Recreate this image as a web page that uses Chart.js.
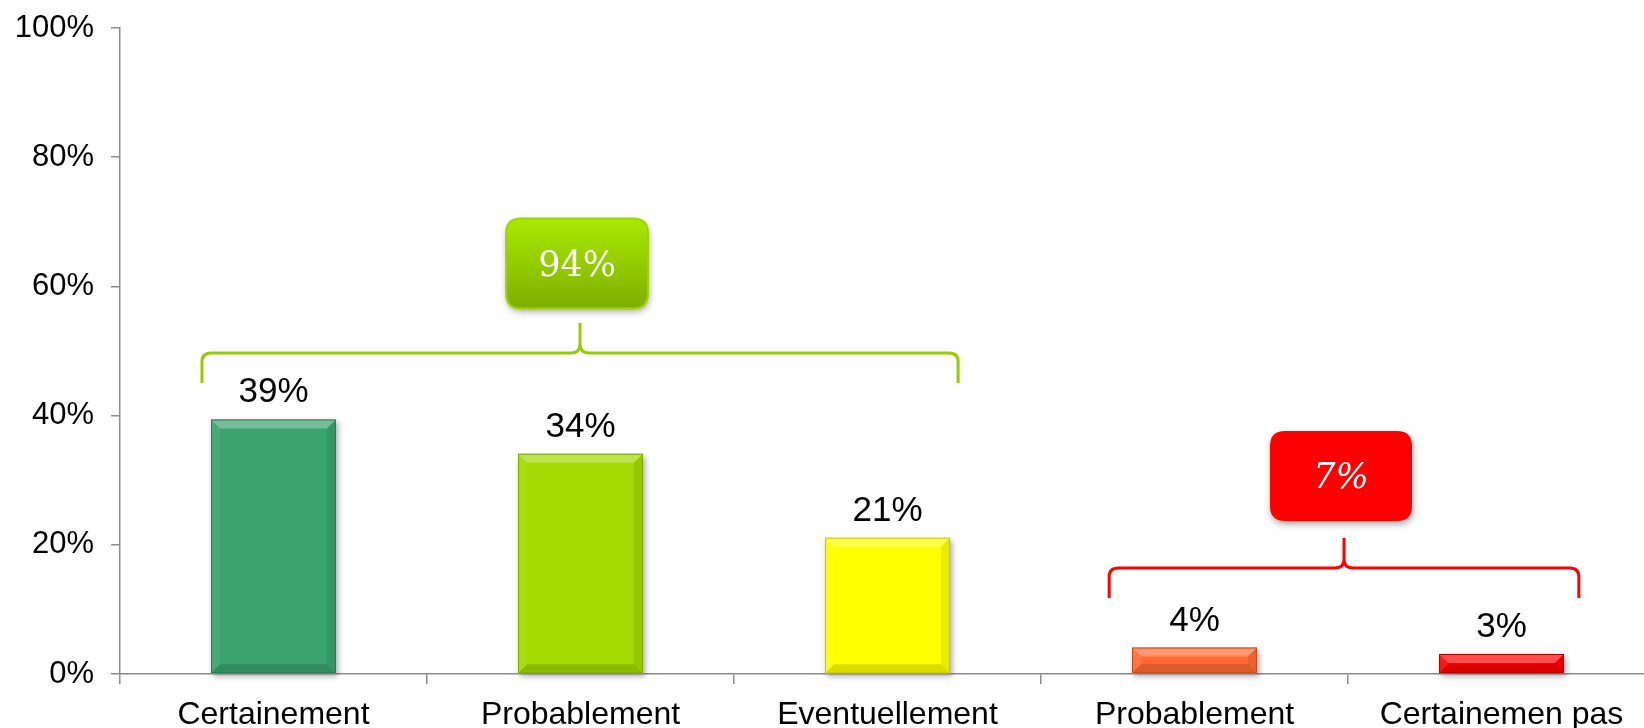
<!DOCTYPE html>
<html>
<head>
<meta charset="utf-8">
<script src="https://cdn.jsdelivr.net/npm/chart.js@4.4.1/dist/chart.umd.min.js"></script>
<style>
  html, body { margin: 0; padding: 0; background: #fff; overflow: hidden; }
  #wrap { width: 1660px; height: 728px; }
</style>
</head>
<body>
<div id="wrap"><canvas id="c" width="1660" height="728"></canvas></div>
<script>
// ---- data ----
const categories = ['Certainement', 'Probablement', 'Eventuellement', 'Probablement', 'Certainemen pas'];
const values = [39.4, 34.1, 21.1, 4.1, 3.1];
const barColors = ['#3aa36e', '#a3d900', '#ffff00', '#ff6a33', '#ff0000'];
const edgeColors = ['#2a7a50', '#7fa800', '#c8c800', '#c44a1e', '#b00000'];
const yTicks = [0, 20, 40, 60, 80, 100];
// groups for the brackets: first / last category index
const groupStart = [0, 3];
const groupEnd = [2, 4];
const groupColors = ['#9acb00', '#ff0000'];

const valueLabels = values.map(v => Math.round(v));
const groupTotals = groupStart.map((s, i) => valueLabels.slice(s, groupEnd[i] + 1).reduce((a, b) => a + b, 0));

// layout of the annotations (category units / value units)
const bracketExt = [[-0.233, 0.23], [-0.278, 0.252]];
const bracketLevel = [49.7, 16.4];
const boxTop = [70.5, 37.6];

const FONT = "'Liberation Sans', Arial, sans-serif";

function rr(ctx, x, y, w, h, r) {
  ctx.beginPath();
  ctx.moveTo(x + r, y);
  ctx.lineTo(x + w - r, y);
  ctx.quadraticCurveTo(x + w, y, x + w, y + r);
  ctx.lineTo(x + w, y + h - r);
  ctx.quadraticCurveTo(x + w, y + h, x + w - r, y + h);
  ctx.lineTo(x + r, y + h);
  ctx.quadraticCurveTo(x, y + h, x, y + h - r);
  ctx.lineTo(x, y + r);
  ctx.quadraticCurveTo(x, y, x + r, y);
  ctx.closePath();
}

const shadowPlugin = {
  id: 'barShadow',
  beforeDatasetsDraw(chart) {
    const ctx = chart.ctx;
    const meta = chart.getDatasetMeta(0);
    ctx.save();
    meta.data.forEach(bar => {
      const w = bar.width;
      ctx.shadowColor = 'rgba(0,0,0,0.35)';
      ctx.shadowBlur = 6;
      ctx.shadowOffsetX = 2;
      ctx.shadowOffsetY = 3;
      ctx.fillStyle = '#fff';
      ctx.fillRect(bar.x - w / 2, bar.y, w, bar.base - bar.y);
    });
    ctx.restore();
  }
};

const bevelPlugin = {
  id: 'bevel',
  afterDatasetsDraw(chart) {
    const ctx = chart.ctx;
    const meta = chart.getDatasetMeta(0);
    ctx.save();
    meta.data.forEach((bar, i) => {
      const l = bar.x - bar.width / 2, r = bar.x + bar.width / 2;
      const t = bar.y, btm = bar.base;
      const b = Math.min(9, (btm - t) / 2);
      const poly = (pts, fill) => {
        ctx.beginPath();
        ctx.moveTo(pts[0][0], pts[0][1]);
        for (let k = 1; k < pts.length; k++) ctx.lineTo(pts[k][0], pts[k][1]);
        ctx.closePath();
        ctx.fillStyle = fill;
        ctx.fill();
      };
      poly([[l, t], [r, t], [r - b, t + b], [l + b, t + b]], 'rgba(255,255,255,0.30)');
      poly([[l, t], [l + b, t + b], [l + b, btm - b], [l, btm]], 'rgba(255,255,255,0.08)');
      poly([[r, t], [r, btm], [r - b, btm - b], [r - b, t + b]], 'rgba(0,0,0,0.08)');
      poly([[l, btm], [r, btm], [r - b, btm - b], [l + b, btm - b]], 'rgba(0,0,0,0.14)');
      ctx.strokeStyle = edgeColors[i];
      ctx.lineWidth = 1;
      ctx.strokeRect(l + 0.5, t + 0.5, r - l - 1, btm - t - 1);

      ctx.fillStyle = '#000';
      ctx.font = '35px ' + FONT;
      ctx.textAlign = 'center';
      ctx.textBaseline = 'alphabetic';
      ctx.fillText(valueLabels[i] + '%', bar.x, t - 17);
    });
    ctx.restore();
  }
};

const bracketPlugin = {
  id: 'brackets',
  afterDraw(chart) {
    const ctx = chart.ctx;
    const xs = chart.scales.x, ys = chart.scales.y;
    ctx.save();
    groupStart.forEach((s, g) => {
      const L = xs.getPixelForValue(s + bracketExt[g][0]);
      const R = xs.getPixelForValue(groupEnd[g] + bracketExt[g][1]);
      const C = (L + R) / 2;
      const yl = ys.getPixelForValue(bracketLevel[g]);
      const h = 30, r = 9;
      ctx.strokeStyle = groupColors[g];
      ctx.lineWidth = 3;
      ctx.beginPath();
      ctx.moveTo(L, yl + h);
      ctx.lineTo(L, yl + r);
      ctx.quadraticCurveTo(L, yl, L + r, yl);
      ctx.lineTo(C - r, yl);
      ctx.quadraticCurveTo(C, yl, C, yl - r);
      ctx.lineTo(C, yl - h);
      ctx.moveTo(C, yl - r);
      ctx.quadraticCurveTo(C, yl, C + r, yl);
      ctx.lineTo(R - r, yl);
      ctx.quadraticCurveTo(R, yl, R, yl + r);
      ctx.lineTo(R, yl + h);
      ctx.stroke();

      const bw = 142, bh = 90;
      const bx = C - 3 - bw / 2;
      const by = ys.getPixelForValue(boxTop[g]);
      ctx.save();
      ctx.shadowColor = 'rgba(0,0,0,0.35)';
      ctx.shadowBlur = 7;
      ctx.shadowOffsetX = 1;
      ctx.shadowOffsetY = 3;
      rr(ctx, bx, by, bw, bh, 15);
      if (g === 0) {
        const grad = ctx.createLinearGradient(0, by, 0, by + bh);
        grad.addColorStop(0, '#a8ea00');
        grad.addColorStop(1, '#7eae00');
        ctx.fillStyle = grad;
      } else {
        ctx.fillStyle = '#ff0000';
      }
      ctx.fill();
      ctx.restore();
      if (g === 0) {
        rr(ctx, bx, by, bw, bh, 15);
        ctx.strokeStyle = '#a2d400';
        ctx.lineWidth = 2;
        ctx.stroke();
      }
      ctx.fillStyle = '#fff';
      ctx.font = (g === 0 ? '' : 'italic ') + "35px 'DejaVu Serif', 'Liberation Serif', serif";
      ctx.textAlign = 'center';
      ctx.textBaseline = 'middle';
      ctx.fillText(groupTotals[g] + '%', bx + bw / 2, by + bh / 2 + 3);
    });
    ctx.restore();
  }
};

new Chart(document.getElementById('c'), {
  type: 'bar',
  data: {
    labels: categories,
    datasets: [{
      data: values,
      backgroundColor: barColors,
      borderWidth: 0,
      barPercentage: 0.407,
      categoryPercentage: 1.0
    }]
  },
  options: {
    responsive: false,
    animation: false,
    events: [],
    layout: { padding: { top: 28, right: 5, left: 0, bottom: 0 } },
    plugins: { legend: { display: false }, tooltip: { enabled: false } },
    scales: {
      x: {
        offset: true,
        afterFit: s => { s.height = 54; },
        grid: { offset: true, drawOnChartArea: false, drawTicks: true, tickLength: 10, color: '#8c8c8c', lineWidth: 1.5 },
        border: { color: '#8c8c8c', width: 1.5 },
        ticks: { color: '#000', font: { family: FONT, size: 32, lineHeight: 1.0 }, padding: 15, maxRotation: 0, autoSkip: false }
      },
      y: {
        min: 0, max: 100,
        afterBuildTicks: s => { s.ticks = yTicks.map(v => ({ value: v })); },
        afterFit: s => { s.width = 120; s.paddingTop = 0; s.paddingBottom = 0; },
        grid: { drawOnChartArea: false, drawTicks: true, tickLength: 9, color: '#8c8c8c', lineWidth: 1.5 },
        border: { color: '#8c8c8c', width: 1.5 },
        ticks: { color: '#000', font: { family: FONT, size: 31 }, padding: 17, callback: v => v + '%' }
      }
    }
  },
  plugins: [shadowPlugin, bevelPlugin, bracketPlugin]
});
</script>
</body>
</html>
